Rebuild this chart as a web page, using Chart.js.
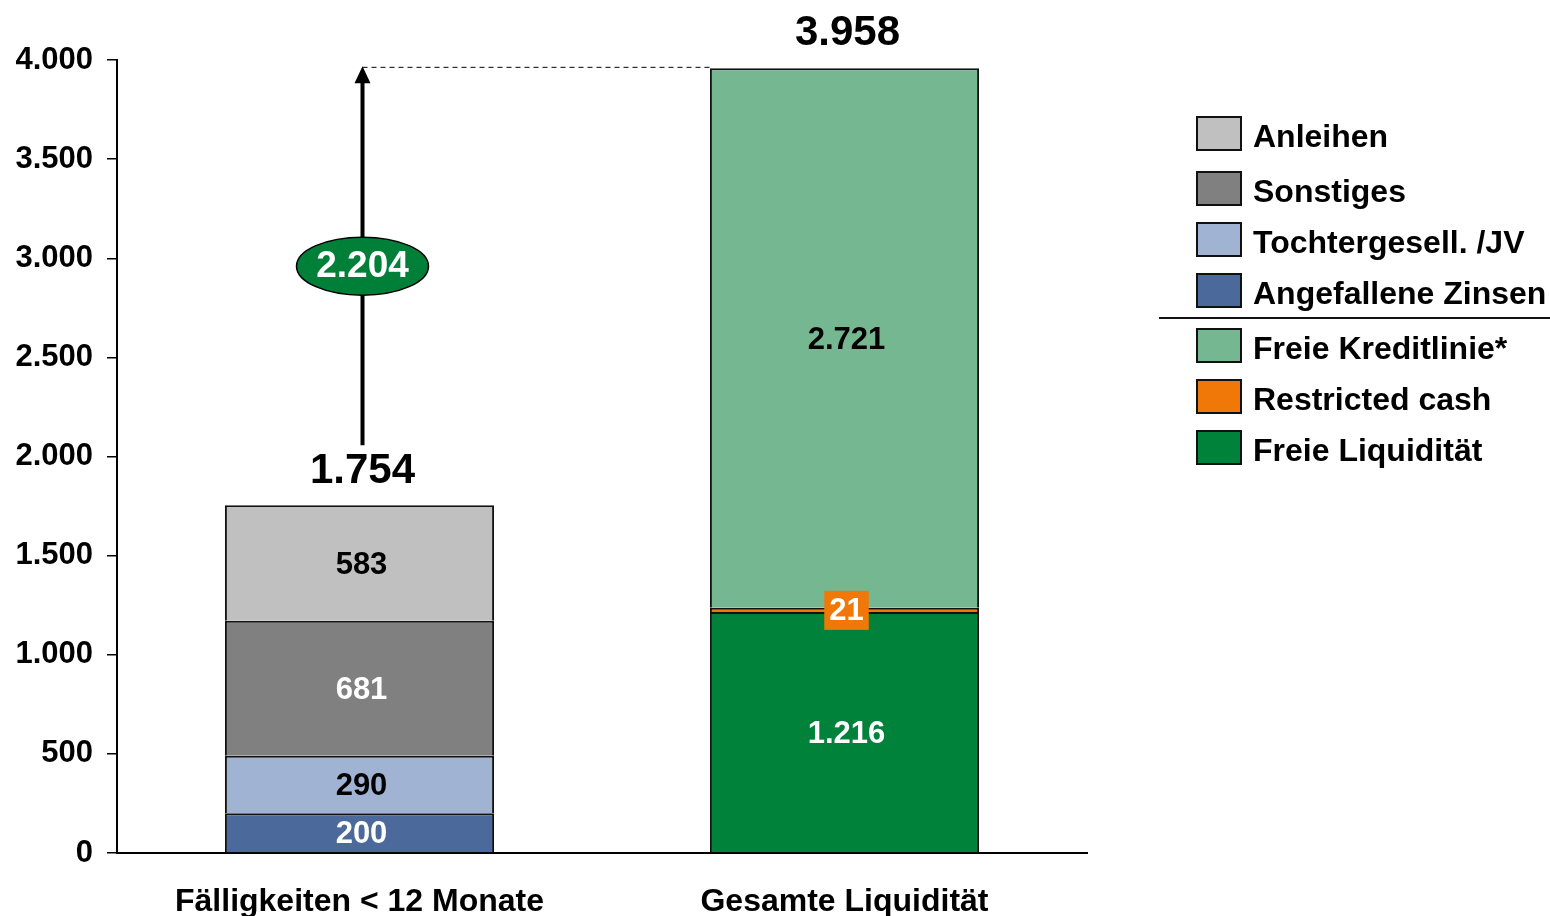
<!DOCTYPE html>
<html lang="de">
<head>
<meta charset="UTF-8">
<script src="https://cdn.jsdelivr.net/npm/chart.js"></script>
<title>Liquidität</title>
<style>
  html, body { margin: 0; padding: 0; background: #fff; }
  #wrap { width: 1550px; height: 916px; }
</style>
</head>
<body>
<div id="wrap"><canvas id="liquiChart" width="1550" height="916"></canvas></div>
<script>
  // Daten
  const kategorien = ['Fälligkeiten < 12 Monate', 'Gesamte Liquidität'];
  const angefalleneZinsen = [200, null];
  const tochtergesell = [290, null];
  const sonstiges = [681, null];
  const anleihen = [583, null];
  const freieLiquiditaet = [null, 1216];
  const restrictedCash = [null, 21];
  const freieKreditlinie = [null, 2721];
  const yTicks = [0, 500, 1000, 1500, 2000, 2500, 3000, 3500, 4000];

  const FONT = '"Liberation Sans", Arial, sans-serif';

  function fmt(n) {
    return String(n).replace(/\B(?=(\d{3})+(?!\d))/g, '.');
  }

  // reihenfolge = stapel von unten nach oben
  const datasets = [
    { label: 'Angefallene Zinsen', data: angefalleneZinsen, backgroundColor: '#4b6a9b', textColor: '#fff' },
    { label: 'Tochtergesell. /JV', data: tochtergesell, backgroundColor: '#a0b3d3', textColor: '#000' },
    { label: 'Sonstiges', data: sonstiges, backgroundColor: '#808080', textColor: '#fff' },
    { label: 'Anleihen', data: anleihen, backgroundColor: '#c0c0c0', textColor: '#000' },
    { label: 'Freie Liquidität', data: freieLiquiditaet, backgroundColor: '#00823a', textColor: '#fff' },
    { label: 'Restricted cash', data: restrictedCash, backgroundColor: '#f07808', textColor: '#fff', boxed: true },
    { label: 'Freie Kreditlinie*', data: freieKreditlinie, backgroundColor: '#74b791', textColor: '#000' }
  ].map(d => Object.assign(d, { borderColor: '#111', borderWidth: 2, barPercentage: 0.555, categoryPercentage: 1 }));

  // legende: oben -> unten, trennlinie nach index 3
  const legendOrder = ['Anleihen', 'Sonstiges', 'Tochtergesell. /JV', 'Angefallene Zinsen', 'Freie Kreditlinie*', 'Restricted cash', 'Freie Liquidität'];

  const extras = {
    id: 'extras',
    afterDatasetsDraw(chart) {
      const ctx = chart.ctx;
      const y = chart.scales.y;
      ctx.save();
      ctx.textAlign = 'center';
      ctx.textBaseline = 'middle';

      // werte in den segmenten
      chart.data.datasets.forEach((ds, i) => {
        const meta = chart.getDatasetMeta(i);
        meta.data.forEach((bar, j) => {
          const v = ds.data[j];
          if (v == null) return;
          const cy = (bar.y + bar.base) / 2;
          ctx.font = 'bold 31px ' + FONT;
          if (ds.boxed) {
            const w = ctx.measureText(String(v)).width + 10;
            ctx.fillStyle = ds.backgroundColor;
            ctx.fillRect(bar.x - w / 2 + 2, cy - 19, w, 39);
          }
          ctx.fillStyle = ds.textColor;
          ctx.fillText(fmt(v), bar.x + 2, cy + 2);
        });
      });

      // summen
      const totals = kategorien.map((_, j) => chart.data.datasets.reduce((s, ds) => s + (ds.data[j] || 0), 0));
      const meta0 = chart.getDatasetMeta(0);
      const meta4 = chart.getDatasetMeta(4);
      const x0 = meta0.data[0].x + 3;
      const x1 = meta4.data[1].x + 3;
      ctx.fillStyle = '#000';
      ctx.font = 'bold 42px ' + FONT;
      ctx.fillText(fmt(totals[0]), x0, y.getPixelForValue(totals[0]) - 34);
      ctx.fillText(fmt(totals[1]), x1, y.getPixelForValue(totals[1]) - 35);

      // pfeil von summe 1 zu summe 2
      const yTop = y.getPixelForValue(totals[1]);
      const yStart = y.getPixelForValue(totals[0]) - 60;
      ctx.strokeStyle = '#000';
      ctx.lineWidth = 4;
      ctx.beginPath();
      ctx.moveTo(x0, yStart);
      ctx.lineTo(x0, yTop + 14);
      ctx.stroke();
      ctx.fillStyle = '#000';
      ctx.beginPath();
      ctx.moveTo(x0, yTop - 2);
      ctx.lineTo(x0 - 8, yTop + 15);
      ctx.lineTo(x0 + 8, yTop + 15);
      ctx.closePath();
      ctx.fill();

      // gestrichelte linie
      const barLeft = meta4.data[1].x - meta4.data[1].width / 2;
      ctx.lineWidth = 1;
      ctx.setLineDash([5, 4]);
      ctx.beginPath();
      ctx.moveTo(x0, yTop - 1);
      ctx.lineTo(barLeft, yTop - 1);
      ctx.stroke();
      ctx.setLineDash([]);

      // ellipse mit differenz
      const ey = y.getPixelForValue(2960);
      ctx.beginPath();
      ctx.ellipse(x0, ey, 66, 29, 0, 0, Math.PI * 2);
      ctx.fillStyle = '#007f38';
      ctx.fill();
      ctx.lineWidth = 1.5;
      ctx.strokeStyle = '#000';
      ctx.stroke();
      ctx.fillStyle = '#fff';
      ctx.font = 'bold 37px ' + FONT;
      ctx.fillText(fmt(totals[1] - totals[0]), x0, ey + 1);

      // legende
      ctx.textAlign = 'left';
      ctx.font = 'bold 32px ' + FONT;
      const rowY = [133, 188, 239, 290, 345, 396, 447];
      legendOrder.forEach((name, k) => {
        const ds = chart.data.datasets.find(d => d.label === name);
        const cy = rowY[k];
        ctx.fillStyle = ds.backgroundColor;
        ctx.fillRect(1197, cy - 16, 44, 33);
        ctx.strokeStyle = '#111';
        ctx.lineWidth = 2;
        ctx.strokeRect(1197, cy - 16, 44, 33);
        ctx.fillStyle = '#000';
        ctx.fillText(name, 1253, cy + 5);
      });
      ctx.lineWidth = 2;
      ctx.beginPath();
      ctx.moveTo(1159, 318);
      ctx.lineTo(1550, 318);
      ctx.stroke();

      ctx.restore();
    }
  };

  new Chart(document.getElementById('liquiChart'), {
    type: 'bar',
    data: { labels: kategorien, datasets: datasets },
    options: {
      responsive: false,
      animation: false,
      layout: { padding: { top: 60, right: 463, left: 0, bottom: 0 } },
      plugins: { legend: { display: false }, tooltip: { enabled: false } },
      scales: {
        x: {
          stacked: true,
          grid: { display: false, drawTicks: false },
          border: { display: true, color: '#000', width: 2 },
          ticks: { color: '#000', padding: 30, font: { family: FONT, size: 32, weight: 'bold' } },
          afterFit(scale) { scale.height = 63; }
        },
        y: {
          stacked: true,
          min: 0,
          max: 4000,
          afterBuildTicks(scale) { scale.ticks = yTicks.map(v => ({ value: v })); },
          grid: { drawOnChartArea: false, drawTicks: true, tickLength: 10, color: '#000', lineWidth: 1.5 },
          border: { display: true, color: '#000', width: 2 },
          ticks: {
            color: '#000',
            padding: 14,
            font: { family: FONT, size: 31, weight: 'bold' },
            callback: v => fmt(v)
          },
          afterFit(scale) { scale.width = 117; }
        }
      }
    },
    plugins: [extras]
  });
</script>
</body>
</html>
